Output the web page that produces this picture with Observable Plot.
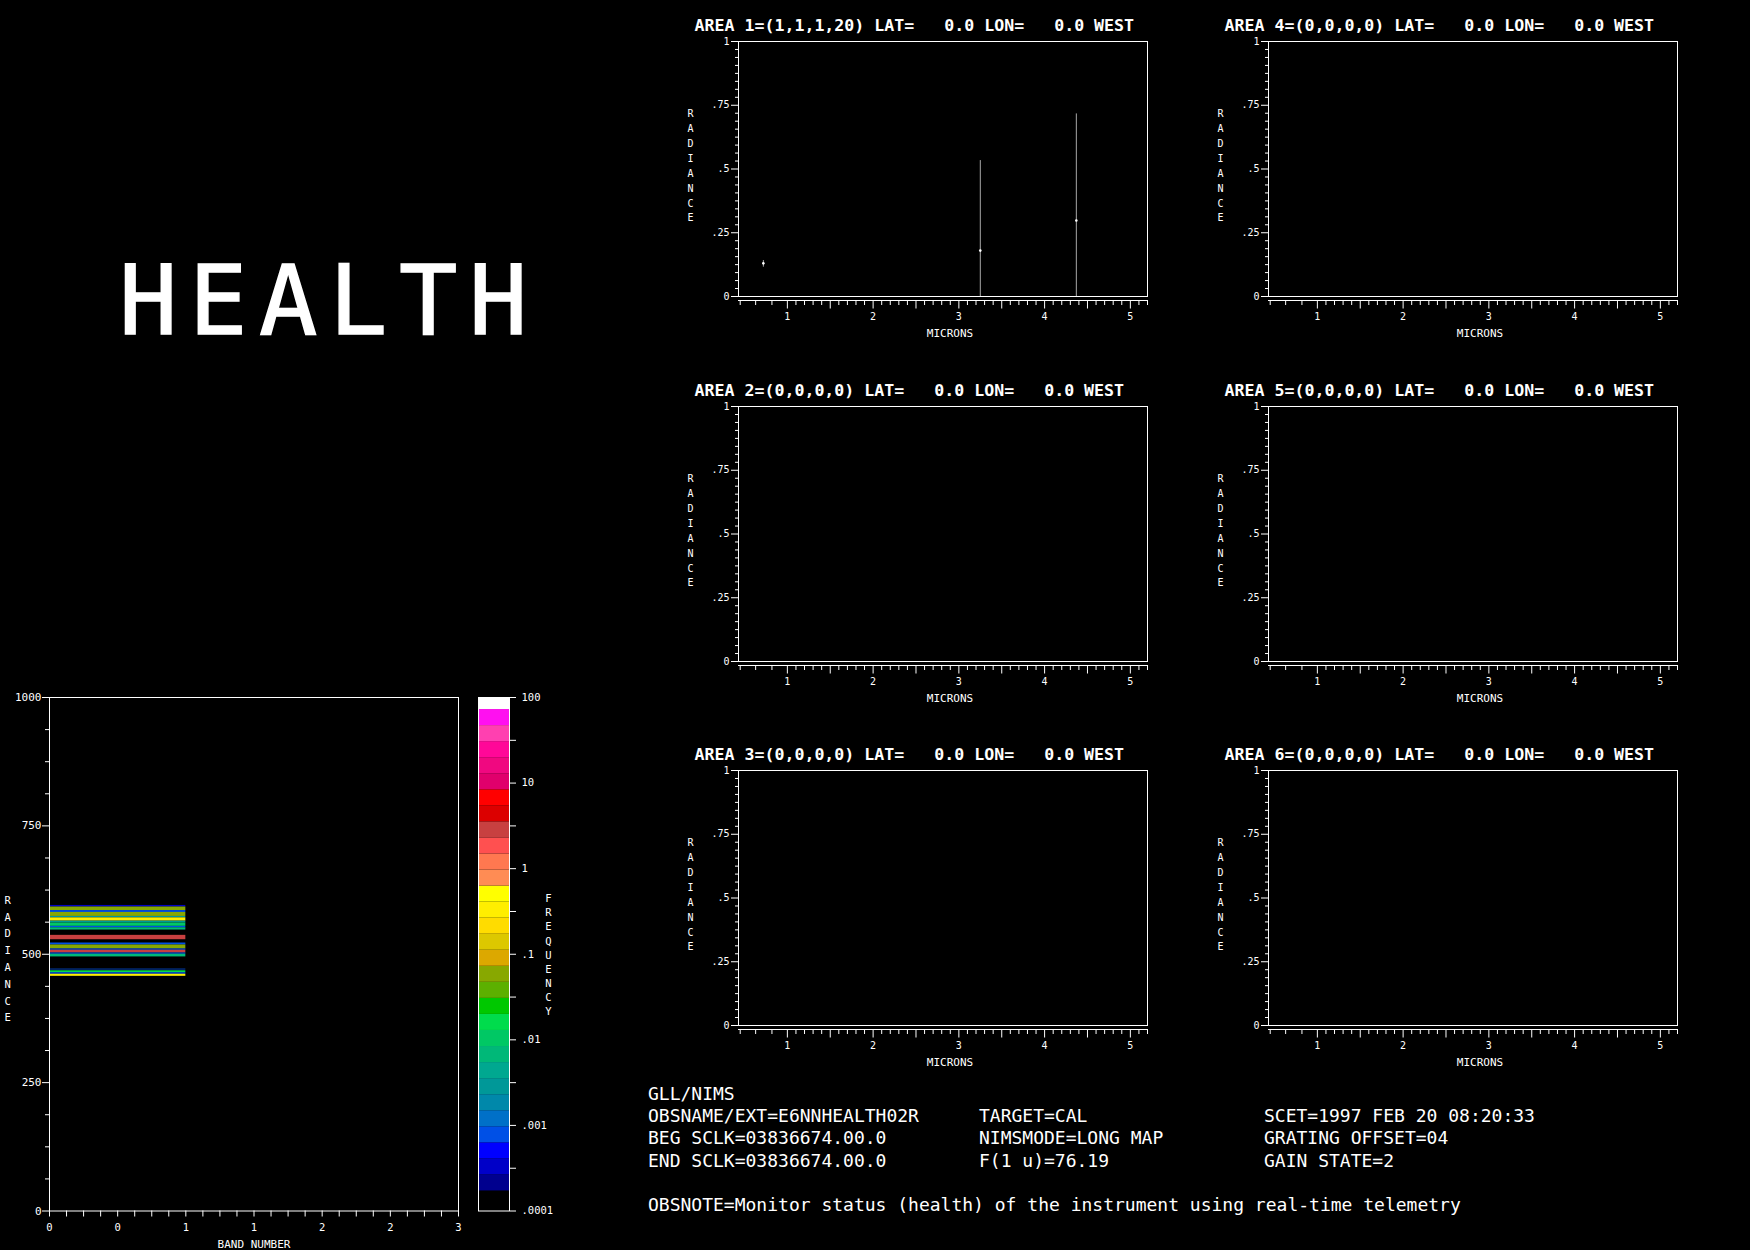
<!DOCTYPE html>
<html><head><meta charset="utf-8">
<script src="https://cdn.jsdelivr.net/npm/d3@7"></script>
<script src="https://cdn.jsdelivr.net/npm/@observablehq/plot@0.6"></script>
<style>
html,body{margin:0;padding:0;background:#000;width:1750px;height:1250px;overflow:hidden;}
#root{position:relative;width:1750px;height:1250px;background:#000;color:#fff;font-family:"DejaVu Sans Mono",monospace;}
#root > svg, #root > .panel{position:absolute;}
.info{position:absolute;font-family:"DejaVu Sans Mono",monospace;font-size:18px;line-height:18px;white-space:pre;color:#fff;}
#health{position:absolute;left:119px;top:252px;font-family:"DejaVu Sans Mono",monospace;font-size:97px;line-height:97px;letter-spacing:11.6px;color:#fff;white-space:pre;-webkit-text-stroke:1.4px #fff;}
</style></head>
<body><div id="root"></div>
<script>
// ---------------- DATA ----------------
const bigTitle = "HEALTH";

const areaTitles = [
  "AREA 1=(1,1,1,20) LAT=   0.0 LON=   0.0 WEST",
  "AREA 2=(0,0,0,0) LAT=   0.0 LON=   0.0 WEST",
  "AREA 3=(0,0,0,0) LAT=   0.0 LON=   0.0 WEST",
  "AREA 4=(0,0,0,0) LAT=   0.0 LON=   0.0 WEST",
  "AREA 5=(0,0,0,0) LAT=   0.0 LON=   0.0 WEST",
  "AREA 6=(0,0,0,0) LAT=   0.0 LON=   0.0 WEST"
];
// Area 1 spectrum: wavelength (microns), min, max and mean radiance
const area1Wave = [0.72, 3.25, 4.37];
const area1Min  = [0.115, 0, 0];
const area1Max  = [0.141, 0.533, 0.716];
const area1Mean = [0.13, 0.18, 0.298];
// Areas 2-6 carry no data
const emptyWave = [];

const specYLabels = [0, 0.25, 0.5, 0.75, 1];
const specXLabels = [1, 1.5, 2, 2.5, 3, 3.5, 4, 4.5, 5];
const specXLead = [0.45, 0.63, 0.82];

// Radiance histogram (band 0..1), rows of radiance bins and their frequency
const histBandStart = 0, histBandEnd = 1;
const histRadLo = [592, 585, 581.4, 573.6, 570.9, 564.5, 560.7, 554.3, 551.6, 547.1, 528.3, 518, 510.3, 507.8, 502.5, 500, 494.8, 469.5, 464, 461, 457];
const histRadHi = [595, 592, 585, 581.4, 573.6, 570.9, 564.5, 560.7, 554.3, 551.6, 536.8, 521.9, 518, 510.3, 507.8, 502.5, 500, 471, 467.8, 464, 461];
const histFreq  = [0.00033, 0.058, 0.00078, 0.058, 0.0028, 0.33, 0.0028, 0.0104, 0.00078, 0.0067, 2.84, 0.00078, 0.058, 0.00078, 2.84, 0.00078, 0.0067, 0.00078, 0.016, 0.00078, 0.33];
const histYLabels = [0, 250, 500, 750, 1000];
const histXLabels = [0, 0.5, 1, 1.5, 2, 2.5, 3];

// Colour bar (frequency, log scale), colours from lowest to highest
const freqColors = ["#000000","#00008e","#0000c8","#0000ff","#0050e6","#0070c8","#0088aa","#009898","#00a890","#00b878","#00c864","#00dc4c","#00c800","#5cb000","#88a800","#dca800","#dcc800","#ffdc00","#ffee00","#ffff00","#ff8c54","#ff7850","#ff5050","#c84040","#dc0000","#ff0000","#e0006c","#f00880","#ff0898","#ff40b0","#ff10f0","#ffffff"];
const freqTickLabels = [0.0001, 0.001, 0.01, 0.1, 1, 10, 100];
const freqTickMinor = [0.000316, 0.00316, 0.0316, 0.316, 3.16, 31.6];

const infoCol1 = ["GLL/NIMS", "OBSNAME/EXT=E6NNHEALTH02R", "BEG SCLK=03836674.00.0", "END SCLK=03836674.00.0"];
const infoCol2 = ["", "TARGET=CAL", "NIMSMODE=LONG MAP", "F(1 u)=76.19"];
const infoCol3 = ["", "SCET=1997 FEB 20 08:20:33", "GRATING OFFSET=04", "GAIN STATE=2"];
const obsNote = "OBSNOTE=Monitor status (health) of the instrument using real-time telemetry";

// ---------------- HELPERS ----------------
const root = document.getElementById("root");
const baseStyle = {background: "black", color: "white", fontFamily: "DejaVu Sans Mono, monospace", fontSize: "10px", overflow: "visible"};
const fmtFrac = d => d === 0 ? "0" : (d < 1 ? String(d).replace(/^0/, "") : String(d));
const stack = s => s.split("").join("\n");
function place(el, left, top) { el.style.position = "absolute"; el.style.left = left + "px"; el.style.top = top + "px"; root.appendChild(el); }

// ---------------- SPECTRUM PANELS ----------------
const FW = 409, FH = 255, ML = 95, MR = 15, MT = 30, MB = 50;
const specYMinor = d3.range(0, 1.0001, 1 / 32).filter(v => !specYLabels.includes(v));
const specXMinor = specXLead.concat(d3.range(10, 53).map(v => v / 10).filter(v => !specXLabels.includes(v)));

function spectrumPanel(title, rows) {
  return Plot.plot({
    width: ML + FW + MR, height: MT + FH + MB,
    marginLeft: ML, marginRight: MR, marginTop: MT, marginBottom: MB,
    style: baseStyle,
    x: {domain: [0.43, 5.2]},
    y: {domain: [0, 1]},
    marks: [
      Plot.ruleX(rows, {x: "wave", y1: "lo", y2: "hi", stroke: "#a8a8a8", strokeWidth: 1}),
      Plot.dot(rows, {x: "wave", y: "mean", r: 1.3, fill: "white", stroke: null}),
      Plot.frame({stroke: "white"}),
      Plot.axisY({ticks: specYLabels, tickSize: 7, tickPadding: 2, tickFormat: fmtFrac, label: null, fontSize: 10}),
      Plot.axisY({ticks: specYMinor, tickSize: 3, tickFormat: () => "", label: null}),
      Plot.ruleY([0], {dy: 4, stroke: "white"}),
      Plot.axisX({ticks: specXMinor, tickSize: 5, dy: 4, tickFormat: () => "", label: null}),
      Plot.axisX({ticks: specXLabels, tickSize: 8.5, dy: 4, tickPadding: 4.3, tickFormat: d => Number.isInteger(d) ? String(d) : "", label: null, fontSize: 10}),
      Plot.text([title], {text: d => d, frameAnchor: "top-left", textAnchor: "start", lineAnchor: "middle", dx: -44, dy: -15.5, fontSize: 16.6, fontWeight: "bold", fill: "white"}),
      Plot.text([stack("RADIANCE")], {text: d => d, frameAnchor: "left", lineAnchor: "middle", dx: -51, dy: -4.5, lineHeight: 1.49, fontSize: 10, fill: "white"}),
      Plot.text(["MICRONS"], {text: d => d, frameAnchor: "bottom", lineAnchor: "middle", dx: 7, dy: 37, fontSize: 11, fill: "white"})
    ]
  });
}

const area1Rows = area1Wave.map((w, i) => ({wave: w, lo: area1Min[i], hi: area1Max[i], mean: area1Mean[i]}));
const panelData = [area1Rows, emptyWave, emptyWave, emptyWave, emptyWave, emptyWave];
const frameLefts = [738, 738, 738, 1268, 1268, 1268];
const frameTops = [41, 405.5, 770, 41, 405.5, 770];
areaTitles.forEach((t, i) => {
  place(spectrumPanel(t, panelData[i]), frameLefts[i] - ML, frameTops[i] - MT);
});

// ---------------- HISTOGRAM ----------------
const step = 6 / 32;
const freqBreaks = d3.range(1, 32).map(i => Math.pow(10, -4 + (i + 0.25) * step));
const histRows = histRadLo.map((lo, i) => ({b0: histBandStart, b1: histBandEnd, lo, hi: histRadHi[i], freq: histFreq[i]}));
const histYMinor = d3.range(0, 1000.1, 62.5).filter(v => !histYLabels.includes(v));
const histXMinor = d3.range(0, 3.001, 0.125).filter(v => !histXLabels.includes(v));

const HML = 49, HMR = 5, HMT = 10, HMB = 45, HFH = 513.5;
const hist = Plot.plot({
  width: HML + FW + HMR, height: HMT + HFH + HMB,
  marginLeft: HML, marginRight: HMR, marginTop: HMT, marginBottom: HMB,
  style: baseStyle,
  x: {domain: [0, 3]},
  y: {domain: [0, 1000]},
  color: {type: "threshold", domain: freqBreaks, range: freqColors},
  marks: [
    Plot.rect(histRows, {x1: "b0", x2: "b1", y1: "lo", y2: "hi", fill: "freq"}),
    Plot.frame({stroke: "white"}),
    Plot.axisY({ticks: histYLabels, tickSize: 7, tickPadding: 1, tickFormat: d => String(d), label: null, fontSize: 11}),
    Plot.axisY({ticks: histYMinor, tickSize: 4, tickFormat: () => "", label: null}),
    Plot.axisX({ticks: histXMinor, tickSize: 6, tickFormat: () => "", label: null}),
    Plot.axisX({ticks: histXLabels, tickSize: 6, tickPadding: 6.4, tickFormat: d => String(Math.floor(d)), label: null, fontSize: 10.5}),
    Plot.text([stack("RADIANCE")], {text: d => d, frameAnchor: "left", lineAnchor: "middle", dx: -45, dy: 3, lineHeight: 1.6, fontSize: 10.5, fill: "white"}),
    Plot.text(["BAND NUMBER"], {text: d => d, frameAnchor: "bottom", lineAnchor: "middle", dy: 33.5, fontSize: 11, fill: "white"})
  ]
});
place(hist, 49 - HML, 696.5 - HMT);

// ---------------- COLOUR BAR ----------------
const barLo = [0.0001].concat(freqBreaks);
const barHi = freqBreaks.concat([100]);
const barRows = freqColors.map((c, i) => ({lo: barLo[i], hi: barHi[i], color: c}));
const CML = 10, CMR = 90, CMT = 10, CMB = 10;
const bar = Plot.plot({
  width: CML + 31 + CMR, height: CMT + HFH + CMB,
  marginLeft: CML, marginRight: CMR, marginTop: CMT, marginBottom: CMB,
  style: baseStyle,
  y: {type: "log", domain: [0.0001, 100]},
  marks: [
    Plot.rect(barRows, {y1: "lo", y2: "hi", fill: "color"}),
    Plot.frame({stroke: "white"}),
    Plot.axisY({anchor: "right", ticks: freqTickLabels, tickSize: 6, tickPadding: 6, tickFormat: fmtFrac, label: null, fontSize: 10.5}),
    Plot.axisY({anchor: "right", ticks: freqTickMinor, tickSize: 6, tickFormat: () => "", label: null}),
    Plot.text([stack("FREQUENCY")], {text: d => d, frameAnchor: "right", lineAnchor: "middle", dx: 42, lineHeight: 1.35, fontSize: 10.5, fill: "white"})
  ]
});
place(bar, 478 - CML, 696.5 - CMT);

// ---------------- TEXT ----------------
const h = document.createElement("div");
h.id = "health"; h.textContent = bigTitle; root.appendChild(h);

const lineCenters = [1094, 1116, 1138, 1161];
function info(text, left, center) {
  if (!text) return;
  const d = document.createElement("div");
  d.className = "info"; d.textContent = text;
  d.style.left = left + "px"; d.style.top = (center - 8.6) + "px";
  root.appendChild(d);
}
infoCol1.forEach((t, i) => info(t, 648, lineCenters[i]));
infoCol2.forEach((t, i) => info(t, 979, lineCenters[i]));
infoCol3.forEach((t, i) => info(t, 1264, lineCenters[i]));
info(obsNote, 648, 1205);
</script>
</body></html>
